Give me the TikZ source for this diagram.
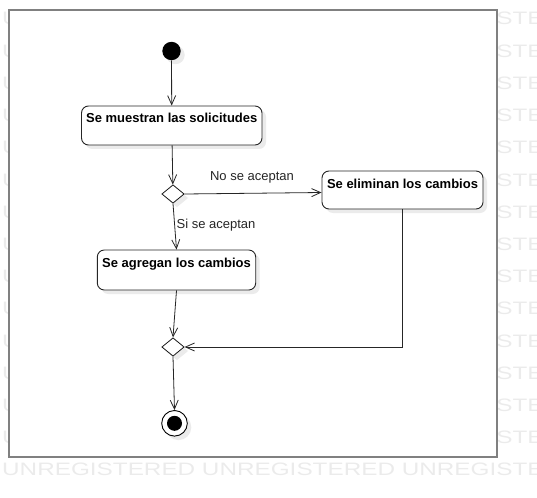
\documentclass[tikz,border=0pt]{standalone}
\usepackage{fontspec}
\setmainfont{Liberation Sans}
\usetikzlibrary{arrows.meta,shapes.geometric,shadows,calc}
\begin{document}
\begin{tikzpicture}[x=1pt,y=-1pt,
  wm/.style={inner sep=0pt,text=black!8,font=\fontsize{18}{20}\selectfont},
  shad/.style={drop shadow={shadow xshift=4pt,shadow yshift=-4pt,fill=black!8,opacity=1}},
  actbox/.style={draw=black!85,line width=0.9pt,rounded corners=7pt,fill=white,shad,
    inner xsep=0pt,inner ysep=0pt,text height=17pt,
    font=\fontsize{13}{15}\selectfont\bfseries,align=center},
  decis/.style={diamond,draw=black!90,line width=0.8pt,fill=white,shad,inner sep=0pt,
    minimum width=22.4pt,minimum height=18.4pt},
  flow/.style={draw=black!85,line width=0.8pt,-{Straight Barb[length=9pt,width=8pt,line width=0.8pt]}},
  lbl/.style={font=\fontsize{13}{15}\selectfont,inner sep=0pt,text=black!85}
]
\useasboundingbox (0,0) rectangle (537,497);
% watermark
\foreach \k in {0,...,14}{
  \node[wm,anchor=base west] at (2,{25+32.2*\k}) {\scalebox{1.35}[1]{UNREGISTERED UNREGISTERED UNREGISTERED}};
}
% frame
\draw[draw=black!50,line width=2pt,fill=white] (9,10) rectangle (497,457);

% nodes
\node[circle,fill=black,inner sep=0pt,minimum size=18.4pt,shad] (ini) at (171.5,51) {};
\node[actbox,minimum width=180.5pt,text depth=22pt] (b1) at (171.75,125.5) {Se muestran las solicitudes};
\node[decis] (d1) at (173,194) {};
\node[actbox,minimum width=161pt,text depth=21pt] (b2) at (402.5,190) {Se eliminan los cambios};
\node[actbox,minimum width=158.4pt,text depth=23pt] (b3) at (176.5,270) {Se agregan los cambios};
\node[decis] (d2) at (173,347) {};
\node[circle,draw=black,line width=0.9pt,fill=white,inner sep=0pt,minimum size=25.6pt,shad] (fin) at (174.5,423.3) {};
\node[circle,fill=black,inner sep=0pt,minimum size=15pt] (finin) at (fin.center) {};

% labels
\node[lbl] (lno) at (252,177) {No se aceptan};
\node[lbl] (lsi) at (216,225) {Si se aceptan};

% connectors
\draw[flow] (ini) -- (b1);
\draw[flow] (b1) -- (d1);
\draw[flow] (d1.east) -- ($(b2.west)+(0,2.5)$);
\draw[flow] (d1.south) -- (b3.north);
\draw[flow] (b3.south) -- (d2.north);
\draw[flow] (b2.south) |- (d2.east);
\draw[flow] (d2.south) -- (fin.north);
\end{tikzpicture}
\end{document}
